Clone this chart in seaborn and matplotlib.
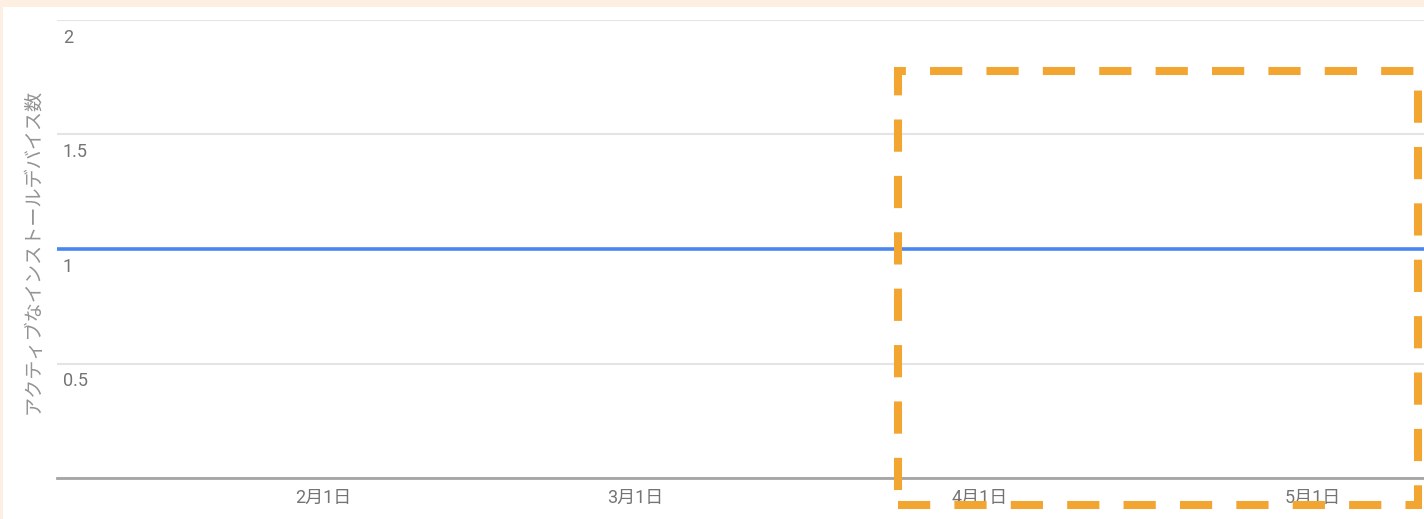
import numpy as np
import pandas as pd
import matplotlib
matplotlib.use('Agg')
import matplotlib.pyplot as plt
import matplotlib.dates as mdates
from matplotlib.patches import Rectangle
from matplotlib.transforms import ScaledTranslation
import seaborn as sns

# ---- data ----
dates = pd.date_range('2019-01-08', '2019-05-11', freq='D')
active_devices = [
    1, 1, 1, 1, 1, 1, 1, 1, 1, 1, 1, 1, 1, 1, 1, 1, 1, 1, 1, 1, 1, 1, 1, 1,
    1, 1, 1, 1, 1, 1, 1, 1, 1, 1, 1, 1, 1, 1, 1, 1, 1, 1, 1, 1, 1, 1, 1, 1,
    1, 1, 1, 1, 1, 1, 1, 1, 1, 1, 1, 1, 1, 1, 1, 1, 1, 1, 1, 1, 1, 1, 1, 1,
    1, 1, 1, 1, 1, 1, 1, 1, 1, 1, 1, 1, 1, 1, 1, 1, 1, 1, 1, 1, 1, 1, 1, 1,
    1, 1, 1, 1, 1, 1, 1, 1, 1, 1, 1, 1, 1, 1, 1, 1, 1, 1, 1, 1, 1, 1, 1, 1,
    1, 1, 1, 1,
]
y_ticks = [0, 0.5, 1, 1.5, 2]
y_tick_labels = ['', '0.5', '1', '1.5', '2']
x_ticks = ['2019-02-01', '2019-03-01', '2019-04-01', '2019-05-01']
x_tick_labels = ['2月1日', '3月1日', '4月1日', '5月1日']
y_label = 'アクティブなインストールデバイス数'
highlight_start = '2019-03-24 16:30'
highlight_end = '2019-05-10 10:30'
highlight_low = -0.118
highlight_high = 1.777

# ---- style ----
sns.set_theme(style='white')
plt.rcParams['font.family'] = ['Roboto', 'Noto Sans CJK JP', 'DejaVu Sans']

W, H = 1424, 519
fig = plt.figure(figsize=(W / 100, H / 100), dpi=100, facecolor='#FDF0E2')
fig.patches.append(Rectangle((3 / W, 0), 1, (H - 7) / H, transform=fig.transFigure,
                             facecolor='white', edgecolor='none', zorder=-10))

ax = fig.add_axes([57 / W, 41 / H, 1367 / W, 458 / H])
ax.set_facecolor('none')

df = pd.DataFrame({'date': dates, 'value': active_devices})
sns.lineplot(data=df, x='date', y='value', ax=ax, color='#4a86f0', linewidth=2.6)

ax.set_xlim(dates[0], dates[-1])
ax.set_ylim(0, 2)
ax.set_yticks(y_ticks)
ax.set_yticklabels(y_tick_labels)
ax.set_xticks(pd.to_datetime(x_ticks))
ax.set_xticklabels(x_tick_labels)
ax.set_xlabel('')

ax.grid(axis='y', color='#e4e4e4', linewidth=1.5)
ax.grid(axis='x', visible=False)
ax.set_axisbelow(True)
for s in ['top', 'right', 'left']:
    ax.spines[s].set_visible(False)
ax.spines['bottom'].set_color('#a5a5a5')
ax.spines['bottom'].set_linewidth(2)

ax.tick_params(axis='both', length=0, labelsize=13, labelcolor='#747474')
ax.tick_params(axis='x', pad=8)
ax.tick_params(axis='y', pad=0)

offset = ScaledTranslation(6 / 100, -23 / 100, fig.dpi_scale_trans)
for tick in ax.yaxis.get_major_ticks():
    tick.label1.set_horizontalalignment('left')
    tick.label1.set_verticalalignment('baseline')
    tick.label1.set_transform(tick.label1.get_transform() + offset)

ax.set_ylabel(y_label, fontsize=13.8, color='#939393')
ax.yaxis.set_label_coords(-14 / 1367, 0.495)

# highlight box (annotation)
x0 = mdates.date2num(pd.Timestamp(highlight_start))
x1 = mdates.date2num(pd.Timestamp(highlight_end))
rect = Rectangle((x0, highlight_low), x1 - x0, highlight_high - highlight_low,
                 fill=False, edgecolor='#F2A531', linewidth=5.8,
                 linestyle=(0, (4, 3)), clip_on=False, zorder=5)
ax.add_patch(rect)

fig.savefig('out.png', dpi=100, facecolor=fig.get_facecolor())
